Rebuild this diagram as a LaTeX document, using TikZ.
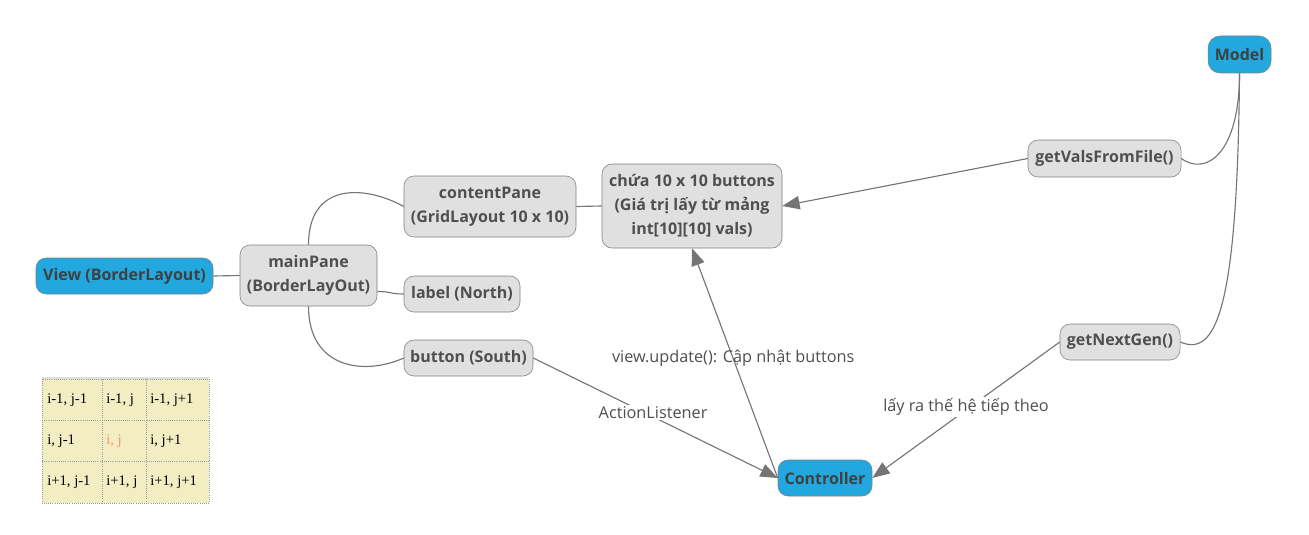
\documentclass[tikz,border=0pt]{standalone}
\usepackage{fontspec}
\setmainfont{Open Sans}
\newfontfamily\tablefont{Liberation Serif}
\usetikzlibrary{arrows.meta,calc}
\definecolor{boxgray}{HTML}{E0E0E0}
\definecolor{edgegray}{HTML}{7F7F7F}
\definecolor{linegray}{HTML}{757575}
\definecolor{textgray}{HTML}{4F4F4F}
\definecolor{rootblue}{HTML}{22A8DF}
\definecolor{cellyellow}{HTML}{F3EDC3}
\definecolor{cellorange}{HTML}{F29A6B}
\begin{document}
\begin{tikzpicture}[x=0.75pt,y=-0.75pt,
  topic/.style={draw=edgegray, fill=boxgray, rounded corners=7.5pt, inner sep=0pt,
    align=center, text=textgray, font=\fontsize{12}{18}\selectfont\bfseries},
  root/.style={topic, fill=rootblue, text=black!75},
  link/.style={linegray, line width=0.85pt},
  arr/.style={link, -{Triangle[length=13pt,width=10pt]}},
  lbl/.style={text=textgray, font=\fontsize{12.2}{14}\selectfont}]
\useasboundingbox (0,0) rectangle (1309,535);

% View side
\node[root, minimum width=132.75pt, minimum height=27pt] (view) at (124.5,276) {View (BorderLayout)};
\node[topic, minimum width=102.75pt, minimum height=45.75pt] (main) at (308.5,275.5) {mainPane\\(BorderLayOut)};
\node[topic, minimum width=129pt, minimum height=45.75pt] (content) at (490,206.5) {contentPane\\(GridLayout 10 x 10)};
\node[topic, minimum width=87pt, minimum height=27pt] (north) at (462,294) {label (North)};
\node[topic, minimum width=96.75pt, minimum height=27pt] (south) at (468.5,358) {button (South)};
\node[topic, minimum width=135pt, minimum height=63pt] (cells) at (692,206) {chứa 10 x 10 buttons\\(Giá trị lấy từ mảng\\int[10][10] vals)};

% Model side
\node[root, minimum width=47.25pt, minimum height=27.75pt, rounded corners=9pt] (model) at (1239.5,54.5) {Model};
\node[topic, minimum width=114.75pt, minimum height=27.75pt] (getvals) at (1104.5,158.5) {getValsFromFile()};
\node[topic, minimum width=90pt, minimum height=27pt] (nextgen) at (1120,342) {getNextGen()};

% Controller
\node[root, minimum width=70.5pt, minimum height=27pt] (ctrl) at (825,478) {Controller};

% Tree branches
\draw[link] (view.east) -- (main.west);
\draw[link] (main.north) .. controls +(0,-62) and +(-40,-22) .. (content.west);
\draw[link] ($(main.east)+(0,16)$) .. controls +(14,0) and +(-14,0) .. (north.west);
\draw[link] (main.south) .. controls +(0,62) and +(-40,18) .. (south.west);
\draw[link] (content.east) -- (cells.west);
\draw[link] (model.south) .. controls +(0,80) and +(25,18) .. (getvals.east);
\draw[link] (model.south) .. controls +(-2,240) and +(35,15) .. (nextgen.east);

% Relations
\draw[arr] (getvals.west) -- (cells.east);
\draw[arr] (south.east) -- node[lbl, pos=0.49, yshift=3pt, fill=white, inner sep=1pt] (lblaction) {ActionListener} (ctrl.west);
\draw[arr] (ctrl.west) -- node[lbl, pos=0.52, inner sep=1pt] (lblupdate) {view.update(): Cập nhật buttons} (cells.south);
\draw[arr] (nextgen.west) -- node[lbl, pos=0.5, yshift=2pt, fill=white, inner sep=1pt] (lblnext) {lấy ra thế hệ tiếp theo} (ctrl.east);

% Neighbour table
\fill[cellyellow] (42,379) rectangle (209,503);
\draw[black!12, line width=1.2pt] (42,378) -- (209,378);
\draw[black!40, densely dotted, line width=0.6pt] (42,379) rectangle (209,503);
\foreach \gx in {102,146} \draw[black!40, densely dotted, line width=0.6pt] (\gx,379) -- (\gx,503);
\foreach \gy in {420,461} \draw[black!40, densely dotted, line width=0.6pt] (42,\gy) -- (209,\gy);
\foreach \r/\gy/\ta/\tb/\tc in {1/400/{i-1, j-1}/{i-1, j}/{i-1, j+1},
                                2/441/{i, j-1}/{}/{i, j+1},
                                3/482/{i+1, j-1}/{i+1, j}/{i+1, j+1}} {
  \node[anchor=west, inner sep=0pt, font=\tablefont\fontsize{11}{13}\selectfont] (t\r a) at (47,\gy) {\ta};
  \node[anchor=west, inner sep=0pt, font=\tablefont\fontsize{11}{13}\selectfont] (t\r b) at (106,\gy) {\tb};
  \node[anchor=west, inner sep=0pt, font=\tablefont\fontsize{11}{13}\selectfont] (t\r c) at (150,\gy) {\tc};
}
\node[anchor=west, inner sep=0pt, text=cellorange, font=\tablefont\fontsize{11}{13}\selectfont] (tij) at (106,441) {i, j};
\end{tikzpicture}
\end{document}
